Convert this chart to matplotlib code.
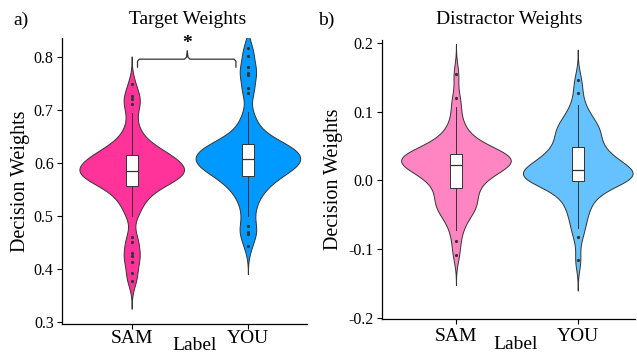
import numpy as np
import matplotlib

matplotlib.use("Agg")
import matplotlib.pyplot as plt

plt.rcParams.update({
    "font.family": ["Liberation Serif", "DejaVu Serif"],
    "axes.unicode_minus": False,
})

GROUPS = ["SAM", "YOU"]

# Target weights (decision weights per participant)
target_sam = [
    0.377, 0.392, 0.413, 0.425, 0.430, 0.451, 0.460,
    0.500, 0.512, 0.523, 0.531, 0.538, 0.544, 0.549, 0.553,
    0.557, 0.560, 0.563, 0.566, 0.568, 0.570, 0.572, 0.574, 0.576, 0.578,
    0.579, 0.580, 0.582, 0.583, 0.584,
    0.586, 0.588, 0.590, 0.592, 0.594, 0.596, 0.598, 0.600, 0.602, 0.604,
    0.606, 0.608, 0.610, 0.612, 0.614,
    0.617, 0.620, 0.623, 0.626, 0.630, 0.634, 0.640, 0.648, 0.658, 0.672, 0.694,
    0.711, 0.721, 0.726, 0.749,
]
target_you = [
    0.443, 0.466, 0.470, 0.481,
    0.500, 0.515, 0.528, 0.538, 0.545, 0.552, 0.558, 0.562, 0.566, 0.570, 0.574,
    0.577, 0.580, 0.583, 0.586, 0.588, 0.590, 0.592, 0.594, 0.596, 0.598,
    0.600, 0.601, 0.603, 0.605, 0.606,
    0.608, 0.610, 0.612, 0.614, 0.616, 0.618, 0.620, 0.622, 0.624, 0.626,
    0.628, 0.630, 0.632, 0.634, 0.635,
    0.638, 0.642, 0.647, 0.653, 0.660, 0.668, 0.680, 0.696,
    0.732, 0.741, 0.766, 0.770, 0.781, 0.802, 0.817,
]

# Distractor weights
distr_sam = [
    -0.108, -0.088,
    -0.072, -0.062, -0.054, -0.048, -0.044, -0.040, -0.037, -0.034, -0.031,
    -0.028, -0.024, -0.019, -0.013,
    -0.011, -0.007, -0.004, -0.001, 0.002, 0.005, 0.008, 0.010, 0.012, 0.014,
    0.016, 0.018, 0.020, 0.021, 0.022,
    0.024, 0.025, 0.026, 0.027, 0.028, 0.029, 0.030, 0.031, 0.032, 0.033,
    0.034, 0.035, 0.036, 0.037, 0.038,
    0.039, 0.041, 0.043, 0.045, 0.048, 0.051, 0.054, 0.058, 0.063, 0.069,
    0.077, 0.088, 0.106,
    0.120, 0.154,
]
distr_you = [
    -0.116, -0.082,
    -0.069, -0.058, -0.049, -0.041, -0.034, -0.028, -0.023, -0.018, -0.014,
    -0.010, -0.007, -0.004, -0.002,
    0.000, 0.001, 0.002, 0.003, 0.004, 0.005, 0.006, 0.007, 0.008, 0.009,
    0.010, 0.011, 0.012, 0.013, 0.014,
    0.016, 0.018, 0.020, 0.022, 0.024, 0.026, 0.028, 0.030, 0.032, 0.034,
    0.037, 0.040, 0.043, 0.046, 0.048,
    0.052, 0.058, 0.062, 0.066, 0.069, 0.072, 0.075, 0.078, 0.082, 0.087,
    0.093, 0.100, 0.109,
    0.127, 0.146,
]

TARGET_TICKS = [0.3, 0.4, 0.5, 0.6, 0.7, 0.8]
TARGET_TICKLABELS = ["0.3", "0.4", "0.5", "0.6", "0.7", "0.8"]
DISTR_TICKS = [-0.2, -0.1, 0.0, 0.1, 0.2]
DISTR_TICKLABELS = ["-0.2", "-0.1", "0.0", "0.1", "0.2"]

PINK, BLUE = "#FF3399", "#0099FF"
PINK_LT, BLUE_LT = "#FF85C2", "#66C2FF"
LINE = "#333333"


def bw_nrd0(x):
    x = np.asarray(x)
    q1, q3 = np.percentile(x, [25, 75])
    lo = min(np.std(x, ddof=1), (q3 - q1) / 1.34)
    return 0.9 * lo * len(x) ** -0.2


def violin_stats(x):
    # untrimmed gaussian density, like geom_violin(trim = FALSE)
    x = np.asarray(x)
    bw = bw_nrd0(x)
    coords = np.linspace(x.min() - 3 * bw, x.max() + 3 * bw, 512)
    vals = np.exp(-0.5 * ((coords[:, None] - x[None, :]) / bw) ** 2).sum(axis=1)
    return dict(coords=coords, vals=vals, mean=x.mean(), median=np.median(x),
                min=coords[0], max=coords[-1])


def draw_panel(ax, data, colors, xpad):
    vp = ax.violin([violin_stats(d) for d in data], positions=[1, 2], widths=0.9,
                   showmeans=False, showextrema=False, showmedians=False)
    for body, c in zip(vp["bodies"], colors):
        body.set_facecolor(c)
        body.set_edgecolor(LINE)
        body.set_linewidth(0.7)
        body.set_alpha(1)
        body.set_zorder(1)
    ax.boxplot(data, positions=[1, 2], widths=0.1, patch_artist=True, showcaps=False,
               boxprops=dict(facecolor="white", edgecolor=LINE, linewidth=0.7),
               medianprops=dict(color=LINE, linewidth=0.9),
               whiskerprops=dict(color=LINE, linewidth=0.7),
               flierprops=dict(marker="o", markersize=2.3, markerfacecolor=LINE,
                               markeredgewidth=0, linestyle="none"),
               zorder=2)
    for s in ("top", "right"):
        ax.spines[s].set_visible(False)
    for s in ("left", "bottom"):
        ax.spines[s].set_linewidth(0.9)
    ax.set_xticks([1, 2])
    ax.set_xticklabels(GROUPS, fontsize=14)
    ax.tick_params(axis="both", length=3.5, width=0.8, color="black")
    ax.tick_params(axis="x", pad=xpad)
    ax.tick_params(axis="y", labelsize=11.5, pad=2.5)


fig = plt.figure(figsize=(6.37, 3.53), dpi=100, facecolor="white")
ax_a = fig.add_axes([0.0973, 0.0822, 0.3849, 0.8102])
ax_b = fig.add_axes([0.5997, 0.0963, 0.3972, 0.7904])

draw_panel(ax_a, [target_sam, target_you], [PINK, BLUE], xpad=0.5)
ax_a.set_xlim(0.40, 2.51)
ax_a.set_ylim(0.296, 0.836)
ax_a.set_yticks(TARGET_TICKS)
ax_a.set_yticklabels(TARGET_TICKLABELS)

draw_panel(ax_b, [distr_sam, distr_you], [PINK_LT, BLUE_LT], xpad=3.2)
ax_b.set_xlim(0.393, 2.47)
ax_b.set_ylim(-0.2014, 0.204)
ax_b.set_yticks(DISTR_TICKS)
ax_b.set_yticklabels(DISTR_TICKLABELS)

for ax, lx, ly, yx in [(ax_a, 0.539, -0.075, -0.17), (ax_b, 0.526, -0.093, -0.19)]:
    ax.set_xlabel("Label", fontsize=14)
    ax.xaxis.set_label_coords(lx, ly)
    ax.xaxis.label.set_va("center")
    ax.set_ylabel("Decision Weights", fontsize=14.5)
    ax.yaxis.set_label_coords(yx, 0.5)
    ax.yaxis.label.set_va("center")

# significance brace between the two target-weight groups
bx = [1.05, 1.05, 1.065, 1.455, 1.472, 1.478, 1.484, 1.501, 1.882, 1.897, 1.897]
by = [0.781, 0.792, 0.796, 0.796, 0.800, 0.812, 0.800, 0.796, 0.796, 0.792, 0.781]
ax_a.plot(bx, by, color=LINE, linewidth=0.9, clip_on=False, zorder=3)
ax_a.text(1.478, 0.826, "*", fontsize=14, fontweight="bold", ha="center", va="center",
          clip_on=False)

fig.text(188 / 637, 1 - 19 / 353, "Target Weights", fontsize=14, ha="center", va="center")
fig.text(509 / 637, 1 - 19 / 353, "Distractor Weights", fontsize=14, ha="center", va="center")
fig.text(13 / 637, 1 - 20 / 353, "a)", fontsize=14, ha="left", va="center")
fig.text(318 / 637, 1 - 20 / 353, "b)", fontsize=14, ha="left", va="center")

fig.savefig("out.png", dpi=100, facecolor="white")
